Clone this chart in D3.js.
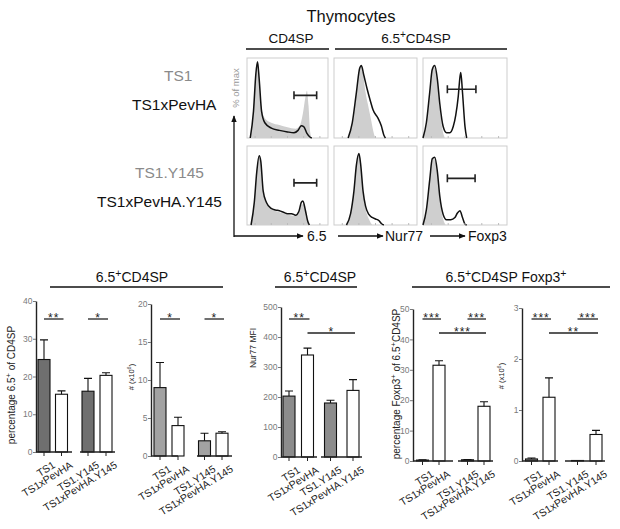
<!DOCTYPE html>
<html><head><meta charset="utf-8">
<script src="https://cdn.jsdelivr.net/npm/d3@7"></script>
<style>
body{margin:0;background:#fff}
svg{display:block}
text{font-family:"Liberation Sans",Arial,Helvetica,sans-serif}
</style>
</head><body>
<svg id="c" width="620" height="529"></svg>
<script>
// ---------------- DATA ----------------
const groups = ["TS1","TS1xPevHA","TS1.Y145","TS1xPevHA.Y145"];
const histRowLabels = [["TS1","TS1xPevHA"],["TS1.Y145","TS1xPevHA.Y145"]];
const histAxisLabels = ["6.5","Nur77","Foxp3"];

// histogram curves: [relative intensity, relative count]
const h65TS1   = [[0.04,0],[0.08,0.35],[0.11,0.85],[0.13,1.0],[0.15,0.8],[0.18,0.4],[0.22,0.26],[0.3,0.2],[0.4,0.17],[0.5,0.14],[0.6,0.12],[0.65,0.16],[0.69,0.32],[0.72,0.53],[0.74,0.62],[0.76,0.42],[0.78,0.08],[0.8,0]];
const h65Pev   = [[0.04,0],[0.08,0.35],[0.11,0.85],[0.13,1.0],[0.15,0.78],[0.18,0.35],[0.22,0.2],[0.3,0.13],[0.4,0.1],[0.5,0.08],[0.58,0.07],[0.63,0.1],[0.67,0.16],[0.7,0.15],[0.74,0.06],[0.78,0.01],[0.8,0]];
const hNurTS1  = [[0.17,0],[0.22,0.2],[0.27,0.6],[0.31,0.92],[0.33,0.95],[0.35,0.85],[0.38,0.6],[0.42,0.38],[0.45,0.22],[0.48,0.06],[0.5,0]];
const hNurPev  = [[0.17,0],[0.22,0.2],[0.27,0.6],[0.31,0.92],[0.33,0.95],[0.36,0.82],[0.4,0.64],[0.44,0.48],[0.47,0.37],[0.53,0.26],[0.57,0.16],[0.6,0.04],[0.62,0]];
const hFoxTS1  = [[0.0,0],[0.04,0.2],[0.08,0.6],[0.11,0.9],[0.14,0.95],[0.17,0.75],[0.2,0.4],[0.23,0.12],[0.26,0]];
const hFoxPev  = [[0.0,0],[0.04,0.2],[0.08,0.6],[0.11,0.9],[0.14,0.95],[0.17,0.78],[0.2,0.45],[0.24,0.15],[0.28,0.07],[0.32,0.07],[0.36,0.15],[0.39,0.3],[0.42,0.55],[0.44,0.8],[0.45,0.86],[0.47,0.6],[0.5,0.15],[0.52,0]];
const h65Y145    = [[0.05,0],[0.09,0.3],[0.12,0.7],[0.15,0.92],[0.17,0.85],[0.2,0.45],[0.24,0.3],[0.3,0.22],[0.4,0.17],[0.5,0.14],[0.6,0.12],[0.64,0.16],[0.67,0.27],[0.7,0.28],[0.73,0.18],[0.75,0.05],[0.77,0]];
const h65PevY145 = [[0.05,0],[0.09,0.3],[0.12,0.7],[0.15,0.92],[0.17,0.85],[0.2,0.45],[0.24,0.3],[0.3,0.22],[0.35,0.2],[0.4,0.19],[0.45,0.17],[0.5,0.15],[0.55,0.15],[0.6,0.13],[0.64,0.18],[0.67,0.3],[0.69,0.32],[0.72,0.2],[0.75,0.05],[0.77,0]];
const hNurY145    = [[0.15,0],[0.2,0.15],[0.24,0.45],[0.27,0.8],[0.3,0.95],[0.32,0.82],[0.35,0.45],[0.38,0.22],[0.42,0.08],[0.46,0]];
const hNurPevY145 = [[0.15,0],[0.2,0.15],[0.24,0.45],[0.27,0.8],[0.3,0.95],[0.32,0.82],[0.35,0.45],[0.38,0.25],[0.42,0.14],[0.46,0.1],[0.5,0.08],[0.54,0.06],[0.57,0.02],[0.6,0]];
const hFoxY145    = [[0.0,0],[0.04,0.2],[0.08,0.6],[0.11,0.88],[0.14,0.9],[0.17,0.7],[0.2,0.35],[0.24,0.08],[0.27,0]];
const hFoxPevY145 = [[0.0,0],[0.04,0.2],[0.08,0.6],[0.11,0.88],[0.14,0.9],[0.17,0.72],[0.2,0.38],[0.24,0.14],[0.28,0.07],[0.33,0.07],[0.38,0.1],[0.41,0.16],[0.44,0.19],[0.47,0.1],[0.5,0.01],[0.52,0]];

// bar chart values (mean, upper error)
const pct65Mean = [24.5,15.3,16.1,20.3];
const pct65Err  = [29.7,16.2,19.5,21.0];
const num65Mean = [9.0,4.0,2.0,3.0];
const num65Err  = [12.3,5.1,3.0,3.2];
const nur77Mean = [203,340,180,222];
const nur77Err  = [220,363,189,258];
const pctFoxMean = [0.3,31.5,0.4,18.0];
const pctFoxErr  = [0.4,33.0,0.5,19.5];
const numFoxMean = [0.04,1.25,0.01,0.52];
const numFoxErr  = [0.06,1.63,0.01,0.60];

// tick labels
const pct65Ticks = [0,10,20,30,40];
const num65Ticks = [0,5,10,15,20];
const nur77Ticks = [0,100,200,300,400,500];
const pctFoxTicks = [0,10,20,30,40,50];
const numFoxTicks = [0,1,2,3];

// significance: [from, to, label, level]
const pct65Sig = [["TS1","TS1xPevHA","**",0],["TS1.Y145","TS1xPevHA.Y145","*",0]];
const num65Sig = [["TS1","TS1xPevHA","*",0],["TS1.Y145","TS1xPevHA.Y145","*",0]];
const nur77Sig = [["TS1","TS1xPevHA","**",0],["TS1xPevHA","TS1xPevHA.Y145","*",1]];
const pctFoxSig = [["TS1","TS1xPevHA","***",0],["TS1.Y145","TS1xPevHA.Y145","***",0],["TS1xPevHA","TS1xPevHA.Y145","***",1]];
const numFoxSig = [["TS1","TS1xPevHA","***",0],["TS1.Y145","TS1xPevHA.Y145","***",0],["TS1xPevHA","TS1xPevHA.Y145","**",1]];

// ---------------- DRAW ----------------
const svg = d3.select("#c");
const FONT = '"Liberation Sans",Arial,Helvetica,sans-serif';

const defs = svg.append("defs");
defs.append("marker").attr("id","arr").attr("viewBox","0 0 10 10").attr("refX",9).attr("refY",5)
  .attr("markerWidth",7).attr("markerHeight",7).attr("orient","auto-start-reverse").attr("markerUnits","userSpaceOnUse")
  .append("path").attr("d","M0,1 L10,5 L0,9 Z").attr("fill","#111");

// text with superscripts; parts: [string, isSup]
function supText(sel, parts, size){
  let raised = false;
  const shift = size*0.38;
  parts.forEach(([s,sup])=>{
    const t = sel.append("tspan").text(s);
    if(sup){
      t.attr("font-size", size*0.75);
      if(!raised){ t.attr("dy", -shift); raised = true; }
    } else if(raised){
      t.attr("dy", shift); raised = false;
    }
  });
}

// ---- Top: headers ----
svg.append("text").attr("x",351).attr("y",22).attr("text-anchor","middle").attr("font-size",16.5).attr("fill","#111").text("Thymocytes");
svg.append("text").attr("x",291).attr("y",43).attr("text-anchor","middle").attr("font-size",13.5).attr("fill","#111").text("CD4SP");
svg.append("line").attr("x1",246).attr("x2",329).attr("y1",49).attr("y2",49).attr("stroke","#111").attr("stroke-width",1.3);
supText(svg.append("text").attr("x",416).attr("y",43).attr("text-anchor","middle").attr("font-size",13.5).attr("fill","#111"),
  [["6.5",false],["+",true],["CD4SP",false]],13.5);
svg.append("line").attr("x1",335).attr("x2",507).attr("y1",49).attr("y2",49).attr("stroke","#111").attr("stroke-width",1.3);

// row labels
const rowLabelPos = [[[164,81,"#8a8a8a"],[132,110,"#111"]],[[135,178,"#8a8a8a"],[97,207,"#111"]]];
histRowLabels.forEach((pair,r)=>pair.forEach((lab,k)=>{
  const p = rowLabelPos[r][k];
  svg.append("text").attr("x",p[0]).attr("y",p[1]).attr("font-size",15.5).attr("fill",p[2]).text(lab);
}));

// histogram panels
const colX=[247,334,423], colW=[81,83,84], rowY=[58,146], rowH=[80,79];
const histPanels = [
  {r:0,c:0,gray:h65TS1,black:h65Pev,gate:[0.58,0.86,0.56]},
  {r:0,c:1,gray:hNurTS1,black:hNurPev,gate:null},
  {r:0,c:2,gray:hFoxTS1,black:hFoxPev,gate:[0.29,0.63,0.64]},
  {r:1,c:0,gray:h65Y145,black:h65PevY145,gate:[0.58,0.86,0.56]},
  {r:1,c:1,gray:hNurY145,black:hNurPevY145,gate:null},
  {r:1,c:2,gray:hFoxY145,black:hFoxPevY145,gate:[0.29,0.62,0.62]},
];
histPanels.forEach(p=>{
  const g = svg.append("g").attr("transform",`translate(${colX[p.c]},${rowY[p.r]})`);
  const w = colW[p.c], h = rowH[p.r];
  const x = d3.scaleLinear().domain([0,1]).range([0,w]);
  const y = d3.scaleLinear().domain([0,1.05]).range([h,0]);
  g.append("rect").attr("width",w).attr("height",h).attr("fill","#fff").attr("stroke","#cdcdcd").attr("stroke-width",1);
  const area = d3.area().x(d=>x(d[0])).y0(h).y1(d=>y(d[1])).curve(d3.curveMonotoneX);
  const line = d3.line().x(d=>x(d[0])).y(d=>y(d[1])).curve(d3.curveMonotoneX);
  g.append("path").attr("d",area(p.gray)).attr("fill","#cfcfcf");
  g.append("path").attr("d",line(p.black)).attr("fill","none").attr("stroke","#111").attr("stroke-width",1.5).attr("stroke-linejoin","round");
  g.selectAll("line.tk").data([0.1,0.3,0.5,0.7,0.9]).enter().append("line")
    .attr("x1",d=>x(d)).attr("x2",d=>x(d)).attr("y1",h).attr("y2",h-2).attr("stroke","#bbb");
  if(p.gate){
    const [a,b,hh]=p.gate, gy=y(hh);
    g.append("path").attr("d",`M${x(a)},${gy-4}V${gy+4}M${x(a)},${gy}H${x(b)}M${x(b)},${gy-4}V${gy+4}`)
      .attr("stroke","#222").attr("stroke-width",1.6).attr("fill","none");
  }
});

// axes arrows
svg.append("line").attr("x1",234).attr("y1",237).attr("x2",234).attr("y2",116).attr("stroke","#111").attr("stroke-width",1.3).attr("marker-end","url(#arr)");
svg.append("text").attr("transform","translate(239,88) rotate(-90)").attr("text-anchor","middle").attr("font-size",9.5).attr("fill","#999").text("% of max");
const arrows = [[234,303,307],[338,383,385],[430,465,468]];
arrows.forEach((a,i)=>{
  svg.append("line").attr("x1",a[0]).attr("x2",a[1]).attr("y1",236).attr("y2",236).attr("stroke","#111").attr("stroke-width",1.3).attr("marker-end","url(#arr)");
  svg.append("text").attr("x",a[2]).attr("y",241).attr("font-size",14).attr("fill","#111").text(histAxisLabels[i]);
});

// ---- Bottom group titles ----
function groupTitle(cx, x1, x2, parts){
  supText(svg.append("text").attr("x",cx).attr("y",282).attr("text-anchor","middle").attr("font-size",14).attr("fill","#111"), parts, 14);
  svg.append("line").attr("x1",x1).attr("x2",x2).attr("y1",287).attr("y2",287).attr("stroke","#111").attr("stroke-width",1.3);
}
groupTitle(132,50,223,[["6.5",false],["+",true],["CD4SP",false]]);
groupTitle(320,275,357,[["6.5",false],["+",true],["CD4SP",false]]);
groupTitle(506,412,610,[["6.5",false],["+",true],["CD4SP Foxp3",false],["+",true]]);

// ---- Bar charts ----
const charts = [
  {mean:pct65Mean, err:pct65Err, ticks:pct65Ticks, sig:pct65Sig, dom:[0,40], y0:452, y1:301, axisX:36,
   centers:[44,61.5,88,106], segs:[[36,72],[80,115]], fill:"#6f6f6f",
   ylab:{x:15,y:385,size:10,parts:[["percentage 6.5",false],["+",true],[" of CD4SP",false]]}},
  {mean:num65Mean, err:num65Err, ticks:num65Ticks, sig:num65Sig, dom:[0,20], y0:456, y1:304, axisX:151,
   centers:[160,178,204.5,222], segs:[[151,178],[197,232]], fill:"#a2a2a2",
   ylab:{x:134,y:377,size:7.5,parts:[["# (x10",false],["6",true],[")",false]]}},
  {mean:nur77Mean, err:nur77Err, ticks:nur77Ticks, sig:nur77Sig, dom:[0,500], y0:457, y1:307, axisX:281,
   centers:[289,307.5,330.5,353], segs:[[281,317],[321,362]], fill:"#8c8c8c",
   ylab:{x:256,y:348,size:8.5,parts:[["Nur77 MFI",false]]}},
  {mean:pctFoxMean, err:pctFoxErr, ticks:pctFoxTicks, sig:pctFoxSig, dom:[0,50], y0:461, y1:309, axisX:413,
   centers:[422.5,439,467.5,484], segs:[[413,453],[458,493]], fill:"#8c8c8c",
   ylab:{x:400,y:384,size:10,parts:[["percentage Foxp3",false],["+",true],[" of 6.5",false],["+",true],["CD4SP",false]]}},
  {mean:numFoxMean, err:numFoxErr, ticks:numFoxTicks, sig:numFoxSig, dom:[0,3], y0:461, y1:308, axisX:522,
   centers:[531.5,549,577.5,596], segs:[[522,558],[565,605]], fill:"#8c8c8c",
   ylab:{x:504,y:376,size:7.5,parts:[["# (x10",false],["6",true],[")",false]]}},
];
const sigY = [319,333];
const barW = 12;

charts.forEach(ch=>{
  const y = d3.scaleLinear().domain(ch.dom).range([ch.y0, ch.y1]);
  const x = d3.scaleOrdinal().domain(groups).range(ch.centers);
  const g = svg.append("g");
  const ax = g.append("g").attr("transform",`translate(${ch.axisX},0)`)
    .call(d3.axisLeft(y).tickValues(ch.ticks).tickSize(3).tickSizeOuter(0).tickFormat(d3.format("d")));
  ax.select(".domain").attr("stroke","#222").attr("stroke-width",1.4);
  ax.selectAll(".tick line").attr("stroke","#777");
  ax.selectAll(".tick text").attr("fill","#7a7a7a").attr("font-size",8.5).attr("font-family",FONT).attr("x",-3.5);
  groups.forEach((gname,i)=>{
    const cx = x(gname);
    const isPev = i%2===1;
    const top = y(ch.mean[i]);
    g.append("rect").attr("x",cx-barW/2).attr("y",top).attr("width",barW).attr("height",Math.max(0,ch.y0-top))
      .attr("fill",isPev?"#fff":ch.fill).attr("stroke","#111").attr("stroke-width",1.1);
    const ey = y(ch.err[i]);
    if(ch.err[i]>ch.mean[i]){
      g.append("path").attr("d",`M${cx},${top}V${ey}M${cx-4},${ey}H${cx+4}`).attr("stroke","#111").attr("stroke-width",1.1).attr("fill","none");
    }
    g.append("line").attr("x1",cx).attr("x2",cx).attr("y1",ch.y0).attr("y2",ch.y0+4).attr("stroke","#222").attr("stroke-width",1);
    g.append("text").attr("transform",`translate(${cx+12},${ch.y0+15}) rotate(-32)`).attr("text-anchor","end")
      .attr("font-size",10.5).attr("fill","#222").text(gname);
  });
  ch.segs.forEach(s=>{
    g.append("line").attr("x1",s[0]).attr("x2",s[1]).attr("y1",ch.y0).attr("y2",ch.y0).attr("stroke","#222").attr("stroke-width",1.4);
  });
  ch.sig.forEach(([a,b,lab,lev])=>{
    const x1 = x(a), x2 = x(b)+2, yy = sigY[lev];
    g.append("line").attr("x1",x1).attr("x2",x2).attr("y1",yy).attr("y2",yy).attr("stroke","#222").attr("stroke-width",1.3);
    g.append("text").attr("x",(x1+x2)/2).attr("y",yy+2.5).attr("text-anchor","middle").attr("font-size",12)
      .attr("letter-spacing",1).attr("fill","#222").text(lab);
  });
  const yl = ch.ylab;
  supText(g.append("text").attr("transform",`translate(${yl.x},${yl.y}) rotate(-90)`).attr("text-anchor","middle")
    .attr("font-size",yl.size).attr("fill","#222"), yl.parts, yl.size);
});
</script>
</body></html>
